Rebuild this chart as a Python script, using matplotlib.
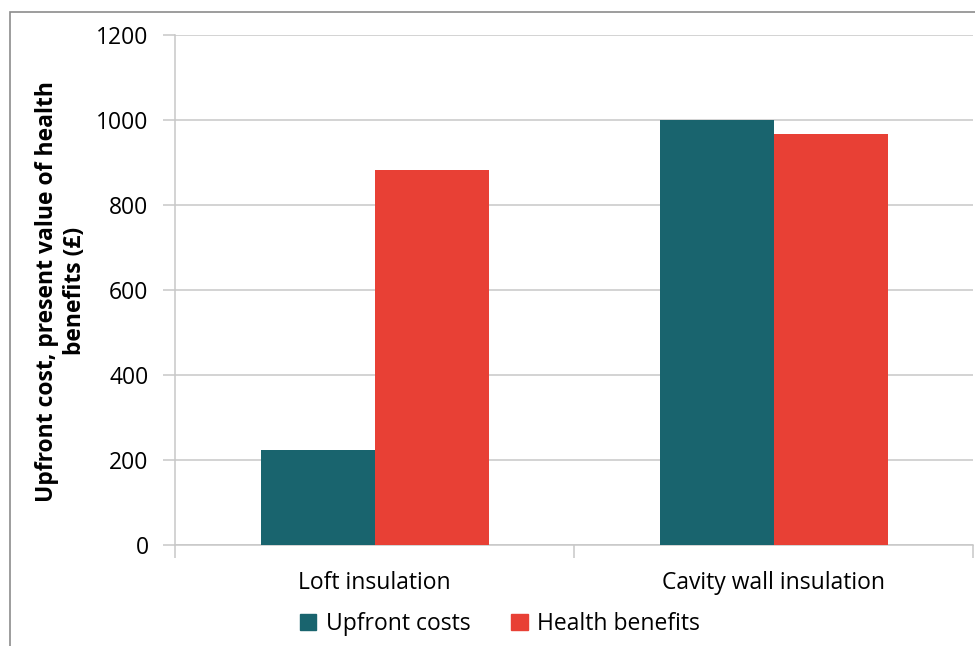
import matplotlib
matplotlib.use("Agg")
import matplotlib.pyplot as plt
from matplotlib.patches import Rectangle, Patch
import numpy as np

# data
categories = ["Loft insulation", "Cavity wall insulation"]
upfront_costs = [224, 1000]
health_benefits = [883, 968]
series_names = ["Upfront costs", "Health benefits"]
y_ticks = [0, 200, 400, 600, 800, 1000, 1200]

teal = "#19646e"
red = "#e84035"
grid_col = "#c8c8c8"

plt.rcParams["font.family"] = ["Open Sans", "DejaVu Sans"]

fig = plt.figure(figsize=(9.75, 6.46), dpi=100)
ax = fig.add_axes([175 / 975, 1 - 545 / 646, 798 / 975, 510 / 646])

# outer chart frame (only left/top visible in the reference)
fig.patches.append(Rectangle((10 / 975, -0.1), 1.2, 1 - 12 / 646 + 0.1,
                             transform=fig.transFigure, fill=False,
                             edgecolor="#8c8c8c", linewidth=1.2))

x = np.arange(len(categories))
w = 1 / 3.5
ax.bar(x - w / 2, upfront_costs, w, color=teal, label=series_names[0], zorder=3)
ax.bar(x + w / 2, health_benefits, w, color=red, label=series_names[1], zorder=3)

ax.set_xlim(-0.5, 1.5)
ax.set_ylim(0, 1200)
ax.set_yticks(y_ticks)
ax.set_yticklabels([str(v) for v in y_ticks], fontsize=16.5)
ax.yaxis.grid(True, color=grid_col, linewidth=1.1, zorder=0)

# category labels centred, dividers as minor ticks
ax.set_xticks(x)
ax.set_xticklabels(categories, fontsize=16.5)
ax.set_xticks([-0.5, 0.5, 1.5], minor=True)
ax.tick_params(axis="x", which="major", length=0, pad=19)
ax.tick_params(axis="x", which="minor", length=9, color=grid_col, width=1.1)
ax.tick_params(axis="y", length=9, color=grid_col, width=1.1, pad=10)

for side in ["top", "right"]:
    ax.spines[side].set_visible(False)
ax.spines["left"].set_color(grid_col)
ax.spines["bottom"].set_color(grid_col)
ax.spines["left"].set_linewidth(1.1)
ax.spines["bottom"].set_linewidth(1.1)

fig.text(61 / 975, 1 - 291 / 646, "Upfront cost, present value of health\nbenefits (£)",
         rotation=90, ha="center", va="center", fontsize=16.5, fontweight="bold",
         linespacing=1.2)

handles = [Patch(color=teal), Patch(color=red)]
fig.legend(handles, series_names, loc="center", bbox_to_anchor=(500 / 975, 1 - 624 / 646),
           ncol=2, frameon=False, fontsize=16.5, handlelength=0.7, handleheight=0.7,
           handletextpad=0.4, columnspacing=1.8)

fig.savefig("out.png", dpi=100)
